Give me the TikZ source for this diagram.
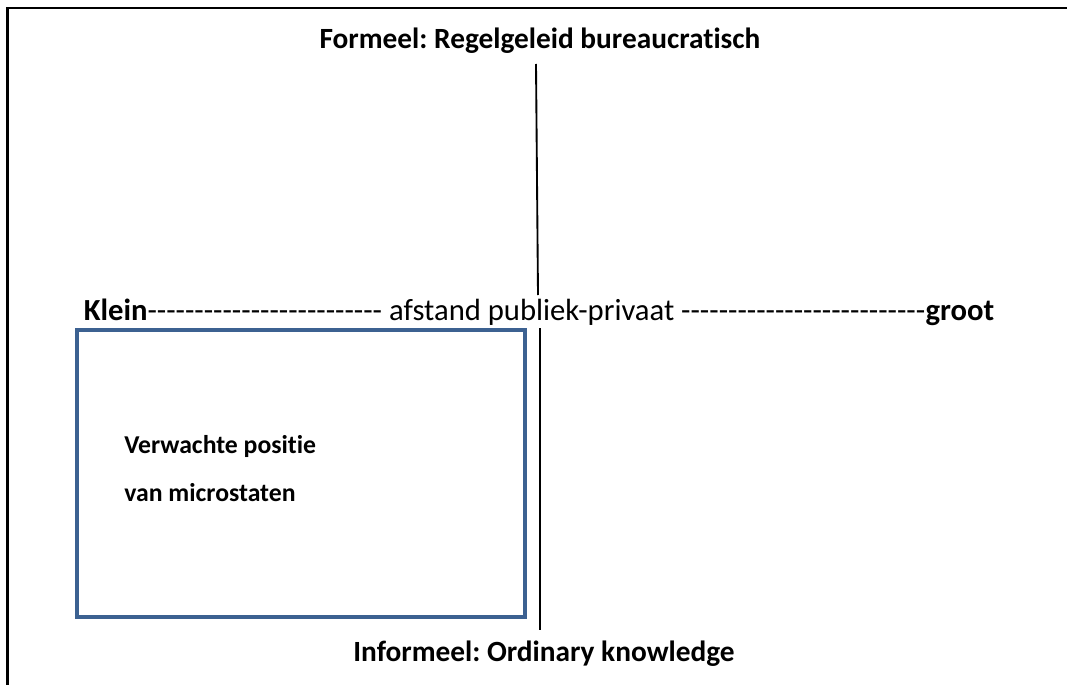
\documentclass[tikz,border=0pt]{standalone}
\usepackage{fontspec}
\setmainfont{Carlito}[Ligatures={TeXOff,CommonOff}]
\definecolor{boxblue}{HTML}{3C6191}
\frenchspacing
\begin{document}
\begin{tikzpicture}[x=0.75pt,y=-0.75pt,
  lbl/.style={inner sep=0pt,outer sep=0pt,font=\fontsize{23}{27}\selectfont},
  boldlbl/.style={inner sep=0pt,outer sep=0pt,font=\fontsize{22}{26}\selectfont\bfseries},
  boxlbl/.style={inner sep=0pt,anchor=west,font=\fontsize{19.3}{23}\selectfont\bfseries},
  axis/.style={line width=1.4pt,black},
  frame/.style={line width=1.6pt,black}]
\useasboundingbox (0,0) rectangle (1067,685);
\draw[frame] (7.5,685) -- (7.5,8) -- (1067,8);
\node[boldlbl] (title) at (540,41) {Formeel: Regelgeleid bureaucratisch};
\node[lbl] (mid) at (539,312) {\textbf{Klein}------------------------- afstand publiek-privaat --------------------------\textbf{groot}};
\node[boldlbl] (bottom) at (544,654) {Informeel: Ordinary knowledge};
\coordinate (upA) at (536,64);
\coordinate (upB) at (538,295);
\coordinate (loA) at (540,328);
\coordinate (loB) at (540,630);
\draw[axis] (upA) -- (upB);
\draw[axis] (loA) -- (loB);
\node[draw=boxblue,line width=3pt,minimum width=448*0.75pt,minimum height=287*0.75pt,anchor=north west,inner sep=0pt] (box) at (75,328) {};
\node[boxlbl] (t1) at (124,446) {Verwachte positie};
\node[boxlbl] (t2) at (124,493) {van microstaten};
\end{tikzpicture}
\end{document}
